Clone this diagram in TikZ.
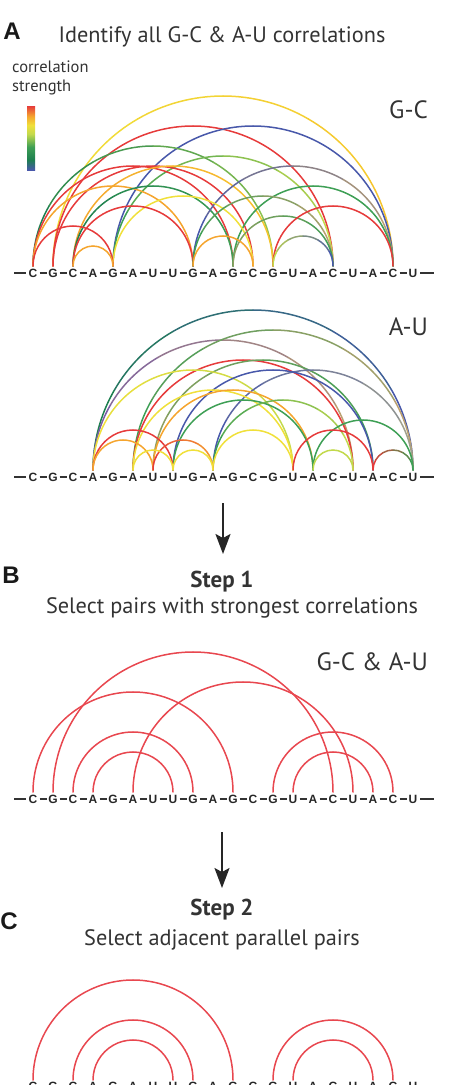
\documentclass[tikz,border=0pt]{standalone}
\usepackage{fontspec}
\setmainfont{PT Sans}
\newfontfamily\seqfont{Liberation Sans}
\usetikzlibrary{calc,arrows.meta}

\definecolor{cred}{HTML}{E63B3B}
\definecolor{corange}{HTML}{F5A52E}
\definecolor{cyelor}{HTML}{F6C52E}
\definecolor{cyellow}{HTML}{F0E03A}
\definecolor{cygreen}{HTML}{C2D94C}
\definecolor{clgreen}{HTML}{8CC350}
\definecolor{cgreen}{HTML}{3E9F55}
\definecolor{cdkgreen}{HTML}{1D7F50}
\definecolor{cblue}{HTML}{4858AA}
\definecolor{cpurple}{HTML}{7A5CA5}
\definecolor{ctan}{HTML}{BBA070}
\definecolor{cgray}{HTML}{A0A08C}
\definecolor{colive}{HTML}{8EA062}
\definecolor{cpink}{HTML}{E8474F}
\definecolor{ctext}{HTML}{333333}

\pgfdeclareverticalshading{corrbar}{100bp}{color(0bp)=(cblue); color(25bp)=(cblue); color(33bp)=(cdkgreen); color(43bp)=(cgreen); color(53bp)=(cygreen); color(60bp)=(cyellow); color(67bp)=(corange); color(75bp)=(cred); color(100bp)=(cred)}

\tikzset{
  arcline/.style={line width=1.5pt, line cap=round},
  seqletter/.style={font=\seqfont\bfseries\fontsize{12}{12}\selectfont, inner sep=0pt, text=black!85},
  seqdash/.style={line width=1.2pt, draw=black!80},
  panellabel/.style={font=\seqfont\bfseries\fontsize{24}{24}\selectfont, inner sep=0pt, text=black!90},
  titletext/.style={font=\fontsize{22.3}{23}\selectfont, inner sep=0pt, text=ctext},
  steptext/.style={font=\bfseries\fontsize{23}{23}\selectfont, inner sep=0pt, text=ctext},
  smalltext/.style={font=\fontsize{16.5}{17}\selectfont, inner sep=0pt, text=ctext},
  pairlabel/.style={font=\fontsize{25}{25}\selectfont, inner sep=0pt, text=ctext},
  bigarrow/.style={line width=2pt, draw=black!85, -{Stealth[length=20pt,width=15pt,inset=4pt]}},
}

% sequence row: prefix, y
\newcommand\seqrow[2]{%
  \foreach \ch [count=\i from 0] in {C,G,C,A,G,A,U,U,G,A,G,C,G,U,A,C,U,A,C,U}{%
    \node[seqletter] (#1\i) at ({33+20*\i},#2) {\ch};}
  \foreach \i in {0,...,18}{%
    \draw[seqdash] ($(#1\i.center)+(6.5,0)$) -- ($(#1\i.center)+(13.5,0)$);}
  \draw[seqdash] ($(#10.center)+(-19,0)$) -- ($(#10.center)+(-7,0)$);
  \draw[seqdash] ($(#119.center)+(7,0)$) -- ($(#119.center)+(21,0)$);
}

% arc: prefix, i, j, colour at i, colour at j, lift
\newcommand\pairarc[6]{%
  \pgfmathsetmacro\rr{10*(#3-#2)}%
  \foreach \k in {0,...,5}{%
    \pgfmathtruncatemacro\pp{20*\k}%
    \pgfmathsetmacro\aa{180-30*\k}%
    \draw[arcline,draw=#5!\pp!#4] ($(#1#2.center)+(\rr,#6)+(\aa:\rr)$) arc[start angle=\aa,delta angle=-30,radius=\rr];
  }%
}

\begin{document}
\begin{tikzpicture}[x=1pt,y=1pt]
\useasboundingbox (0,0) rectangle (448,-1085);

% ---------------- Panel A ----------------
\node[panellabel] (labA) at (12,-31) {A};
\node[titletext] (titA) at (222,-37) {Identify all G-C \& A-U correlations};
\node[smalltext, anchor=west] (cs1) at (12,-67) {correlation};
\node[smalltext, anchor=west] (cs2) at (12,-87) {strength};
\shade[shading=corrbar] (27,-106) rectangle (35,-170);
\node[pairlabel, anchor=east] (gcl) at (428,-110) {G-C};

\seqrow{gc}{-273}
\pairarc{gc}{1}{18}{cyellow}{cyelor}{7}
\pairarc{gc}{1}{15}{cred}{cred}{7}
\pairarc{gc}{4}{18}{cblue}{cblue}{7}
\pairarc{gc}{0}{12}{cdkgreen}{clgreen}{7}
\pairarc{gc}{4}{15}{cgreen}{cygreen}{7}
\pairarc{gc}{1}{11}{cred}{cred}{7}
\pairarc{gc}{0}{10}{cred}{cred}{7}
\pairarc{gc}{2}{12}{corange}{cyelor}{7}
\pairarc{gc}{0}{8}{corange}{corange}{7}
\pairarc{gc}{2}{10}{cdkgreen}{cgreen}{7}
\pairarc{gc}{8}{18}{cblue}{ctan}{7}
\pairarc{gc}{10}{18}{cgreen}{cgreen}{7}
\pairarc{gc}{4}{11}{cyellow}{cyellow}{7}
\pairarc{gc}{2}{8}{cred}{cred}{7}
\pairarc{gc}{8}{15}{cgreen}{ctan}{7}
\pairarc{gc}{10}{15}{colive}{cgreen}{7}
\pairarc{gc}{12}{18}{cred}{cred}{7}
\pairarc{gc}{0}{4}{cred}{cred}{7}
\pairarc{gc}{2}{4}{corange}{corange}{7}
\pairarc{gc}{8}{11}{corange}{corange}{7}
\pairarc{gc}{12}{15}{cygreen}{cblue}{7}

\node[pairlabel, anchor=east] (aul) at (428,-327) {A-U};
\seqrow{au}{-477}
\pairarc{au}{3}{19}{cdkgreen}{cblue}{7}
\pairarc{au}{3}{16}{cpurple}{ctan}{7}
\pairarc{au}{5}{19}{cgreen}{ctan}{7}
\pairarc{au}{5}{16}{cred}{cred}{7}
\pairarc{au}{6}{17}{colive}{cgreen}{7}
\pairarc{au}{3}{13}{cyellow}{cygreen}{7}
\pairarc{au}{9}{19}{cblue}{cgray}{7}
\pairarc{au}{7}{17}{cblue}{cblue}{7}
\pairarc{au}{5}{13}{cyellow}{cyellow}{7}
\pairarc{au}{6}{14}{corange}{corange}{7}
\pairarc{au}{7}{14}{cgreen}{cgreen}{7}
\pairarc{au}{9}{16}{cgreen}{cygreen}{7}
\pairarc{au}{14}{19}{cgreen}{cgreen}{7}
\pairarc{au}{9}{13}{cyellow}{cyellow}{7}
\pairarc{au}{13}{17}{cred}{cred}{7}
\pairarc{au}{3}{7}{cred}{cred}{7}
\pairarc{au}{3}{6}{corange}{corange}{7}
\pairarc{au}{6}{9}{cred}{corange}{7}
\pairarc{au}{5}{7}{cyellow}{cyellow}{7}
\pairarc{au}{7}{9}{cyellow}{cyellow}{7}
\pairarc{au}{14}{16}{cygreen}{cygreen}{7}
\pairarc{au}{17}{19}{cred}{cgreen}{7}

\coordinate (a1s) at (223,-503);
\coordinate (a1e) at (223,-554);
\draw[bigarrow] (a1s) -- (a1e);

% ---------------- Panel B ----------------
\node[panellabel] (labB) at (11,-575) {B};
\node[steptext] (st1) at (222,-582) {Step 1};
\node[titletext] (sel1) at (232,-608) {Select pairs with strongest correlations};
\node[pairlabel, anchor=east] (bl) at (428,-662) {G-C \& A-U};
\seqrow{bb}{-799}
\pairarc{bb}{3}{7}{cpink}{cpink}{7}
\pairarc{bb}{2}{8}{cpink}{cpink}{7}
\pairarc{bb}{0}{10}{cpink}{cpink}{7}
\pairarc{bb}{1}{15}{cpink}{cpink}{7}
\pairarc{bb}{5}{16}{cpink}{cpink}{7}
\pairarc{bb}{12}{18}{cpink}{cpink}{7}
\pairarc{bb}{13}{17}{cpink}{cpink}{7}

\coordinate (a2s) at (222,-832);
\coordinate (a2e) at (222,-888);
\draw[bigarrow] (a2s) -- (a2e);

% ---------------- Panel C ----------------
\node[panellabel] (labC) at (9,-921) {C};
\node[steptext] (st2) at (222,-910) {Step 2};
\node[titletext] (sel2) at (222,-940) {Select adjacent parallel pairs};
\seqrow{cc}{-1086}
\pairarc{cc}{0}{10}{cpink}{cpink}{6}
\pairarc{cc}{2}{8}{cpink}{cpink}{6}
\pairarc{cc}{3}{7}{cpink}{cpink}{6}
\pairarc{cc}{12}{18}{cpink}{cpink}{6}
\pairarc{cc}{13}{17}{cpink}{cpink}{6}
\end{tikzpicture}
\end{document}
